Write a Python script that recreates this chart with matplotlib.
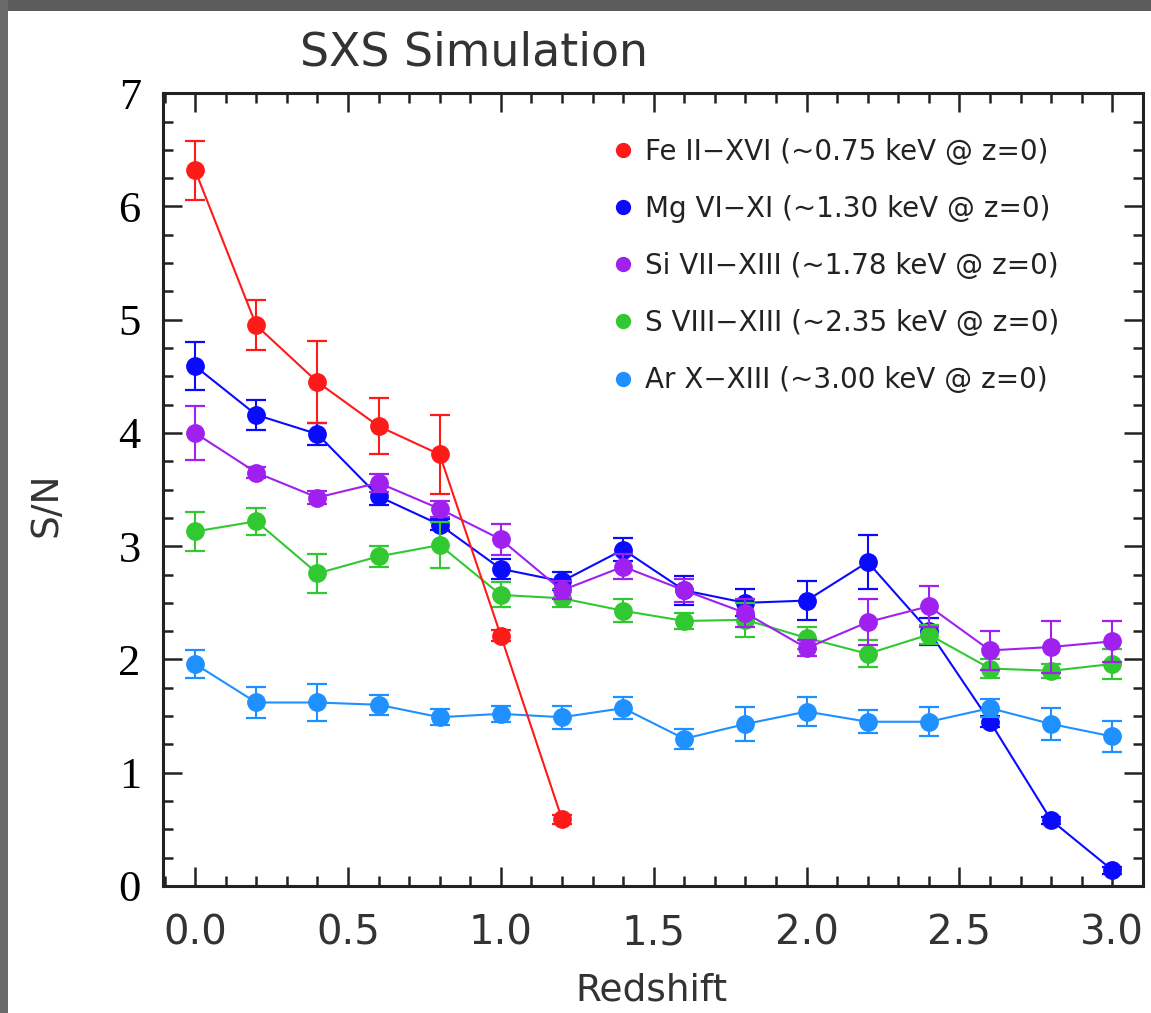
import matplotlib
matplotlib.use("Agg")
import matplotlib.pyplot as plt
from matplotlib.lines import Line2D
from matplotlib.patches import Rectangle
from matplotlib.ticker import MultipleLocator

# redshift grid
z_all = [0.0, 0.2, 0.4, 0.6, 0.8, 1.0, 1.2, 1.4, 1.6, 1.8, 2.0, 2.2, 2.4, 2.6, 2.8, 3.0]
z_fe = [0.0, 0.2, 0.4, 0.6, 0.8, 1.0, 1.2]

fe_sn = [6.32, 4.95, 4.45, 4.06, 3.81, 2.21, 0.59]
fe_err = [0.26, 0.22, 0.36, 0.25, 0.35, 0.05, 0.04]

mg_sn = [4.59, 4.16, 3.99, 3.44, 3.19, 2.80, 2.69, 2.97, 2.61, 2.50, 2.52, 2.86, 2.25, 1.45, 0.58, 0.14]
mg_err = [0.21, 0.13, 0.10, 0.08, 0.05, 0.09, 0.08, 0.10, 0.13, 0.12, 0.17, 0.24, 0.12, 0.05, 0.03, 0.03]

si_sn = [4.00, 3.65, 3.43, 3.56, 3.33, 3.06, 2.61, 2.82, 2.61, 2.41, 2.10, 2.33, 2.47, 2.08, 2.11, 2.16]
si_err = [0.24, 0.05, 0.06, 0.08, 0.07, 0.14, 0.08, 0.11, 0.10, 0.12, 0.07, 0.20, 0.18, 0.17, 0.23, 0.18]

s_sn = [3.13, 3.22, 2.76, 2.91, 3.01, 2.57, 2.54, 2.43, 2.34, 2.35, 2.19, 2.05, 2.22, 1.92, 1.90, 1.96]
s_err = [0.17, 0.12, 0.17, 0.09, 0.20, 0.11, 0.08, 0.10, 0.07, 0.15, 0.10, 0.12, 0.08, 0.08, 0.06, 0.13]

ar_sn = [1.96, 1.62, 1.62, 1.60, 1.49, 1.52, 1.49, 1.57, 1.30, 1.43, 1.54, 1.45, 1.45, 1.57, 1.43, 1.32]
ar_err = [0.12, 0.14, 0.16, 0.09, 0.07, 0.07, 0.10, 0.10, 0.09, 0.15, 0.13, 0.10, 0.13, 0.08, 0.14, 0.14]

labels = [
    "Fe II\u2212XVI (~0.75 keV @ z=0)",
    "Mg VI\u2212XI (~1.30 keV @ z=0)",
    "Si VII\u2212XIII (~1.78 keV @ z=0)",
    "S VIII\u2212XIII (~2.35 keV @ z=0)",
    "Ar X\u2212XIII (~3.00 keV @ z=0)",
]
colors = ["#ff1a1a", "#0a0aff", "#a020f0", "#32c832", "#1e90ff"]

x_ticks = [0.0, 0.5, 1.0, 1.5, 2.0, 2.5, 3.0]
x_ticklabels = ["0.0", "0.5", "1.0", "1.5", "2.0", "2.5", "3.0"]
y_ticks = [0, 1, 2, 3, 4, 5, 6, 7]
y_ticklabels = ["0", "1", "2", "3", "4", "5", "6", "7"]

series = [
    (z_fe, fe_sn, fe_err),
    (z_all, mg_sn, mg_err),
    (z_all, si_sn, si_err),
    (z_all, s_sn, s_err),
    (z_all, ar_sn, ar_err),
]
draw_order = [1, 3, 2, 4, 0]

fig = plt.figure(figsize=(11.51, 10.13), dpi=100)
fig.patch.set_facecolor("white")
# grey slide frame along top and left edges
fig.patches.append(Rectangle((0, 0.989), 1, 0.011, transform=fig.transFigure,
                             facecolor="#5c5c5c", edgecolor="none", zorder=0))
fig.patches.append(Rectangle((0, 0), 0.007, 1, transform=fig.transFigure,
                             facecolor="#6a6a6a", edgecolor="none", zorder=0))

ax = fig.add_axes([0.1416, 0.1254, 0.8514, 0.7826])

for i in draw_order:
    x, y, e = series[i]
    ax.errorbar(x, y, yerr=e, fmt="-o", color=colors[i], ecolor=colors[i],
                markersize=12.5, linewidth=1.5, elinewidth=1.5, capsize=7,
                capthick=1.6, zorder=3 + draw_order.index(i))

ax.set_xlim(-0.105, 3.1)
ax.set_ylim(0, 7)
ax.set_xticks(x_ticks)
ax.set_xticklabels(x_ticklabels)
ax.xaxis.set_minor_locator(MultipleLocator(0.1))
ax.set_yticks(y_ticks)
ax.set_yticklabels(y_ticklabels, family="Liberation Serif", fontsize=32,
                   color="black")
ax.yaxis.set_minor_locator(MultipleLocator(0.25))
ax.tick_params(which="both", direction="in", top=True, right=True,
               width=1.8, color="#222222")
ax.tick_params(which="major", length=14)
ax.tick_params(which="minor", length=7)
ax.tick_params(axis="x", which="major", pad=20, labelsize=29, labelcolor="#333333")
ax.tick_params(axis="y", which="major", pad=16)
for sp in ax.spines.values():
    sp.set_linewidth(2.2)
    sp.set_color("#222222")

fig.text(0.412, 0.948, "SXS Simulation", fontsize=33, color="#333333",
         ha="center", va="center")
fig.text(0.566, 0.022, "Redshift", fontsize=27, color="#333333",
         ha="center", va="center")
fig.text(0.04, 0.502, "S/N", fontsize=27, color="#333333",
         ha="center", va="center", rotation=90)

handles = [Line2D([], [], linestyle="none", marker="o", markersize=10,
                  color=c) for c in colors]
leg = ax.legend(handles, labels, loc="upper left", bbox_to_anchor=(0.455, 0.944),
                frameon=False, fontsize=20, labelspacing=1.05,
                handletextpad=0.3, handlelength=1.0, borderaxespad=0,
                borderpad=0)
for t in leg.get_texts():
    t.set_color("#222222")

fig.savefig("out.png", dpi=100)
